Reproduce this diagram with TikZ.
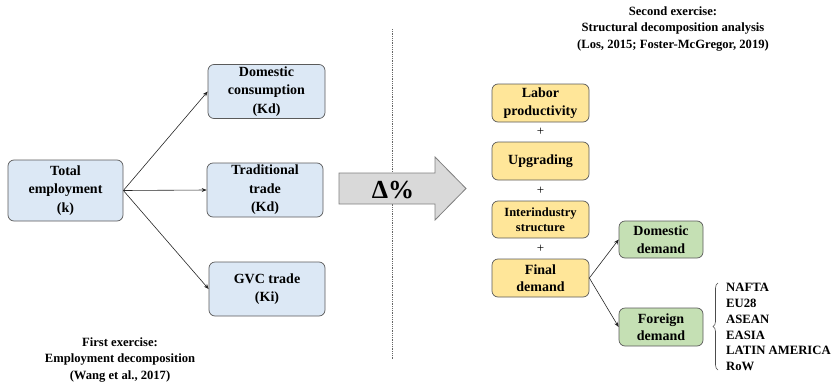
\documentclass[tikz,border=0pt]{standalone}
\usepackage{fontspec}
\setmainfont{Liberation Serif}
\usetikzlibrary{arrows.meta,decorations.pathreplacing}
\definecolor{boxblue}{RGB}{220,232,245}
\definecolor{boxyellow}{RGB}{255,230,153}
\definecolor{boxgreen}{RGB}{197,224,180}
\definecolor{boxline}{RGB}{90,90,90}
\definecolor{arrowfill}{RGB}{217,217,217}
\definecolor{arrowline}{RGB}{127,127,127}
\tikzset{
  basebox/.style={draw=boxline, line width=0.7pt, rounded corners=6pt, align=center, inner sep=1pt, font=\bfseries\fontsize{14}{18.5}\selectfont},
  bluebox/.style={basebox, fill=boxblue},
  yellowbox/.style={basebox, fill=boxyellow, font=\bfseries\fontsize{14}{17.5}\selectfont},
  greenbox/.style={basebox, fill=boxgreen, font=\bfseries\fontsize{14}{17.5}\selectfont},
  conn/.style={draw=black!85, line width=0.6pt, -{Stealth[length=5pt,width=4pt]}},
  caption/.style={align=center, font=\bfseries\fontsize{12.6}{16.2}\selectfont, inner sep=0pt},
  plus/.style={font=\fontsize{13}{13}\selectfont, inner sep=0pt}
}
\begin{document}
\begin{tikzpicture}[x=1pt,y=-1pt]
\useasboundingbox (0,0) rectangle (835,383);
% dotted divider
\draw[densely dotted, line width=0.8pt, black!60] (392,29) coordinate (dtop) -- (392,360) coordinate (dbot);
% left part
\node[bluebox, minimum width=115pt, minimum height=61pt] (tot) at (65.5,190.5) {Total\\employment\\(k)};
\node[bluebox, minimum width=117pt, minimum height=54pt] (dc) at (266.5,91.5) {Domestic\\consumption\\(Kd)};
\node[bluebox, minimum width=116pt, minimum height=54pt] (tt) at (265,190) {Traditional\\trade\\(Kd)};
\node[bluebox, minimum width=116pt, minimum height=54pt] (gvc) at (267,289) {GVC trade\\(Ki)};
\draw[conn] (tot.east) -- (dc.west);
\draw[conn] (tot.east) -- (tt.west);
\draw[conn] (tot.east) -- (gvc.west);
\node[caption] (cap1) at (120,360) {First exercise:\\Employment decomposition\\(Wang et al., 2017)};
% big arrow
\draw[fill=arrowfill, draw=arrowline, line width=0.8pt] (339,173) -- (435,173) -- (435,157) -- (466,188.5) -- (435,220) -- (435,204) -- (339,204) -- cycle;
\node[font=\bfseries\fontsize{26}{26}\selectfont, inner sep=0pt] (delta) at (393,190) {Δ\%};
% right part
\node[caption] (cap2) at (673,29) {Second exercise:\\Structural decomposition analysis\\(Los, 2015; Foster-McGregor, 2019)};
\node[yellowbox, minimum width=97pt, minimum height=38pt] (lab) at (540.5,103) {Labor\\productivity};
\node[yellowbox, minimum width=97pt, minimum height=38pt] (upg) at (540.5,161) {Upgrading};
\node[yellowbox, minimum width=97pt, minimum height=37pt, font=\bfseries\fontsize{12.5}{15}\selectfont] (inter) at (540.5,219.5) {Interindustry\\structure};
\node[yellowbox, minimum width=97pt, minimum height=38pt] (fin) at (540.5,278) {Final\\demand};
\node[plus] (p1) at (540.5,132) {+};
\node[plus] (p2) at (540.5,191) {+};
\node[plus] (p3) at (540.5,249) {+};
\node[greenbox, minimum width=84pt, minimum height=37pt] (dd) at (661,239.5) {Domestic\\demand};
\node[greenbox, minimum width=84pt, minimum height=38pt] (fd) at (661,327) {Foreign\\demand};
\draw[conn] (fin.east) -- (dd.west);
\draw[conn] (fin.east) -- (fd.west);
\coordinate (bb) at (718,370);
\coordinate (bt) at (718,283);
\draw[line width=0.6pt, black!70, decorate, decoration={brace, amplitude=5pt}] (bb) -- (bt);
\node[anchor=west, align=left, inner sep=0pt, font=\bfseries\fontsize{12.7}{15.8}\selectfont] (list) at (726,327) {NAFTA\\EU28\\ASEAN\\EASIA\\LATIN AMERICA\\RoW};
\end{tikzpicture}
\end{document}
